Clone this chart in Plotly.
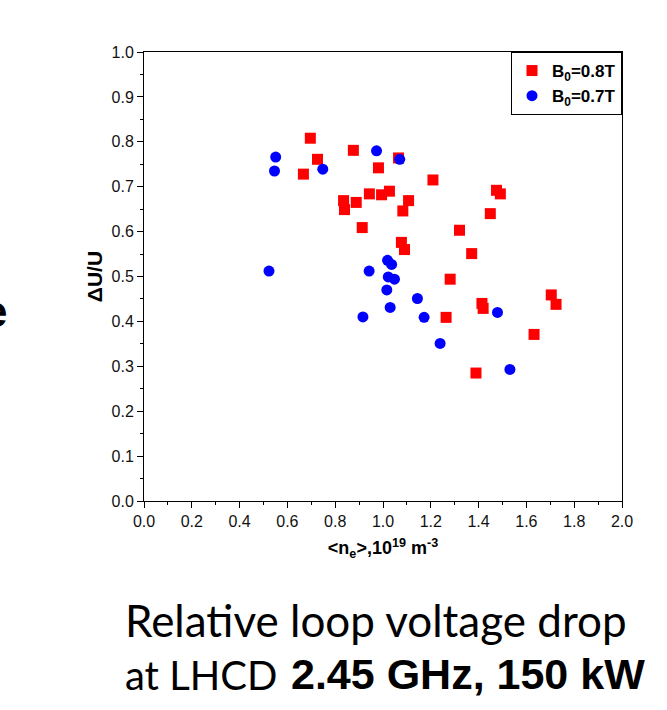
import plotly.graph_objects as go

# B0 = 0.8 T (red squares)
ne_08 = [0.696, 0.726, 0.667, 0.876, 0.981, 1.065, 1.209, 0.943, 0.994, 1.027,
         1.107, 0.835, 0.839, 0.888, 1.083, 0.913, 1.475, 1.491, 1.449, 1.320,
         1.077, 1.090, 1.371, 1.281, 1.414, 1.419, 1.264, 1.704, 1.724, 1.632, 1.389]
du_08 = [0.808, 0.761, 0.728, 0.781, 0.742, 0.764, 0.715, 0.684, 0.682, 0.690,
         0.669, 0.669, 0.649, 0.665, 0.646, 0.609, 0.692, 0.684, 0.640, 0.603,
         0.576, 0.560, 0.551, 0.494, 0.440, 0.429, 0.409, 0.459, 0.438, 0.371, 0.285]

# B0 = 0.7 T (blue circles)
ne_07 = [0.551, 0.546, 0.748, 0.973, 1.070, 0.523, 0.942, 1.019, 1.036, 1.022,
         1.048, 1.016, 1.144, 1.030, 0.916, 1.172, 1.479, 1.239, 1.531]
du_07 = [0.766, 0.735, 0.739, 0.780, 0.761, 0.512, 0.512, 0.536, 0.527, 0.499,
         0.494, 0.470, 0.451, 0.431, 0.410, 0.409, 0.420, 0.351, 0.293]

series_names = ["B<sub>0</sub>=0.8T", "B<sub>0</sub>=0.7T"]
x_ticks = [0.0, 0.2, 0.4, 0.6, 0.8, 1.0, 1.2, 1.4, 1.6, 1.8, 2.0]
y_ticks = [0.0, 0.1, 0.2, 0.3, 0.4, 0.5, 0.6, 0.7, 0.8, 0.9, 1.0]

W, H = 667, 710
L, R, T, B = 144, 45, 52, 209
PW, PH = W - L - R, H - T - B


def px_x(px):
    return (px - L) / PW


def px_y(py):
    return (H - B - py) / PH


fig = go.Figure()
fig.add_trace(go.Scatter(x=ne_08, y=du_08, mode="markers", name="<b>" + series_names[0] + "</b>",
                         marker=dict(symbol="square", size=11, color="#ff0000")))
fig.add_trace(go.Scatter(x=ne_07, y=du_07, mode="markers", name="<b>" + series_names[1] + "</b>",
                         marker=dict(symbol="circle", size=11, color="#0000ff")))

axis_common = dict(showline=True, linecolor="black", linewidth=1, mirror=True,
                   ticks="outside", ticklen=6, tickwidth=1, tickcolor="black",
                   showgrid=False, zeroline=False,
                   tickfont=dict(family="Liberation Sans, Arial", size=16, color="#111"))

fig.update_xaxes(range=[0, 2], tickvals=x_ticks, ticktext=[f"{v:.1f}" for v in x_ticks],
                 minor=dict(ticks="outside", ticklen=3, dtick=0.1, tick0=0, tickcolor="black", showgrid=False),
                 title=dict(text="<b>&lt;n<sub>e</sub>&gt;,10<sup>19</sup> m<sup>-3</sup></b>",
                            font=dict(family="Liberation Sans, Arial", size=18, color="black"),
                            standoff=12),
                 **axis_common)
fig.update_yaxes(range=[0, 1], tickvals=y_ticks, ticktext=[f"{v:.1f}" for v in y_ticks],
                 minor=dict(ticks="outside", ticklen=3, dtick=0.05, tick0=0, tickcolor="black", showgrid=False),
                 title=dict(text="<b>ΔU/U</b>",
                            font=dict(family="Liberation Sans, Arial", size=21, color="black"),
                            standoff=3),
                 **axis_common)

fig.update_layout(
    width=W, height=H,
    margin=dict(l=L, r=R, t=T, b=B),
    paper_bgcolor="white", plot_bgcolor="white",
    showlegend=True,
    legend=dict(x=1, y=1, xanchor="right", yanchor="top",
                bordercolor="black", borderwidth=1, bgcolor="white",
                font=dict(family="Liberation Sans, Arial", size=17, color="black"),
                itemwidth=30, tracegroupgap=0),
)

annots = [
    dict(text="<b>e</b>", x=px_x(9), y=px_y(311), xanchor="right", yanchor="middle",
         font=dict(family="Liberation Sans, Arial", size=44, color="black")),
    dict(text="Relative loop voltage drop", x=px_x(123), y=px_y(620), xanchor="left", yanchor="middle",
         font=dict(family="Lato", size=44, color="black")),
    dict(text="at LHCD", x=px_x(123), y=px_y(675), xanchor="left", yanchor="middle",
         font=dict(family="Lato", size=40, color="black")),
    dict(text="<b>2.45 GHz, 150 kW</b>", x=px_x(289), y=px_y(674), xanchor="left", yanchor="middle",
         font=dict(family="Liberation Sans, Arial", size=43, color="black")),
]
for a in annots:
    fig.add_annotation(xref="paper", yref="paper", showarrow=False, **a)

fig.write_html("out.html")
